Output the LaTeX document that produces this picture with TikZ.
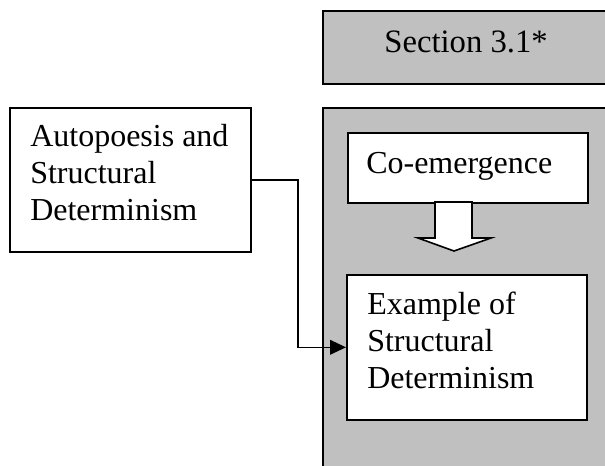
\documentclass[tikz,border=0pt]{standalone}
\usepackage{fontspec}
\setmainfont{Liberation Serif}
\usetikzlibrary{arrows.meta}
\definecolor{secgray}{HTML}{C0C0C0}
\begin{document}
\begin{tikzpicture}[x=0.75pt,y=-0.75pt,
  box/.style={draw=black,line width=1.2pt,rectangle,inner sep=0pt,anchor=north west},
  whitebox/.style={box,fill=white},
  graybox/.style={box,fill=secgray},
  txt/.style={font=\fontsize{24}{27.75}\selectfont,inner sep=0pt,align=left,anchor=base west},
  conn/.style={draw=black,line width=1.2pt,-{Triangle[length=12pt,width=11pt]}},
]
\useasboundingbox (0,0) rectangle (605,465);
\clip (0,0) rectangle (605,465);
% gray boxes
\node[graybox,minimum width={300*0.75pt},minimum height={73*0.75pt}] (sec) at (322,10) {};
\node[graybox,minimum width={300*0.75pt},minimum height={380*0.75pt}] (panel) at (322,107) {};
% white boxes
\node[whitebox,minimum width={241*0.75pt},minimum height={144*0.75pt}] (auto) at (9,107) {};
\node[whitebox,minimum width={240*0.75pt},minimum height={70*0.75pt}] (coem) at (347,132) {};
\node[whitebox,minimum width={240*0.75pt},minimum height={145*0.75pt}] (ex) at (346,274) {};
% block arrow
\draw[line width=1.2pt,fill=white] (435,202) -- (472,202) -- (472,238) -- (491,238) -- (454,251) -- (418,238) -- (435,238) -- cycle;
% texts
\node[txt,anchor=base,font=\fontsize{24.5}{27.75}\selectfont] (sectxt) at (466,52) {Section 3.1*};
\node[txt] (autotxt) at (30,220) {Autopoesis and\\Structural\\Determinism};
\node[txt] (coemtxt) at (366,173) {Co-emergence};
\node[txt] (extxt) at (367,388) {Example of\\Structural\\Determinism};
% connector
\coordinate (bend) at (298,300);
\draw[conn] (auto.east) -- (auto.east -| bend) -- (bend |- ex.west) -- (ex.west);
\end{tikzpicture}
\end{document}
